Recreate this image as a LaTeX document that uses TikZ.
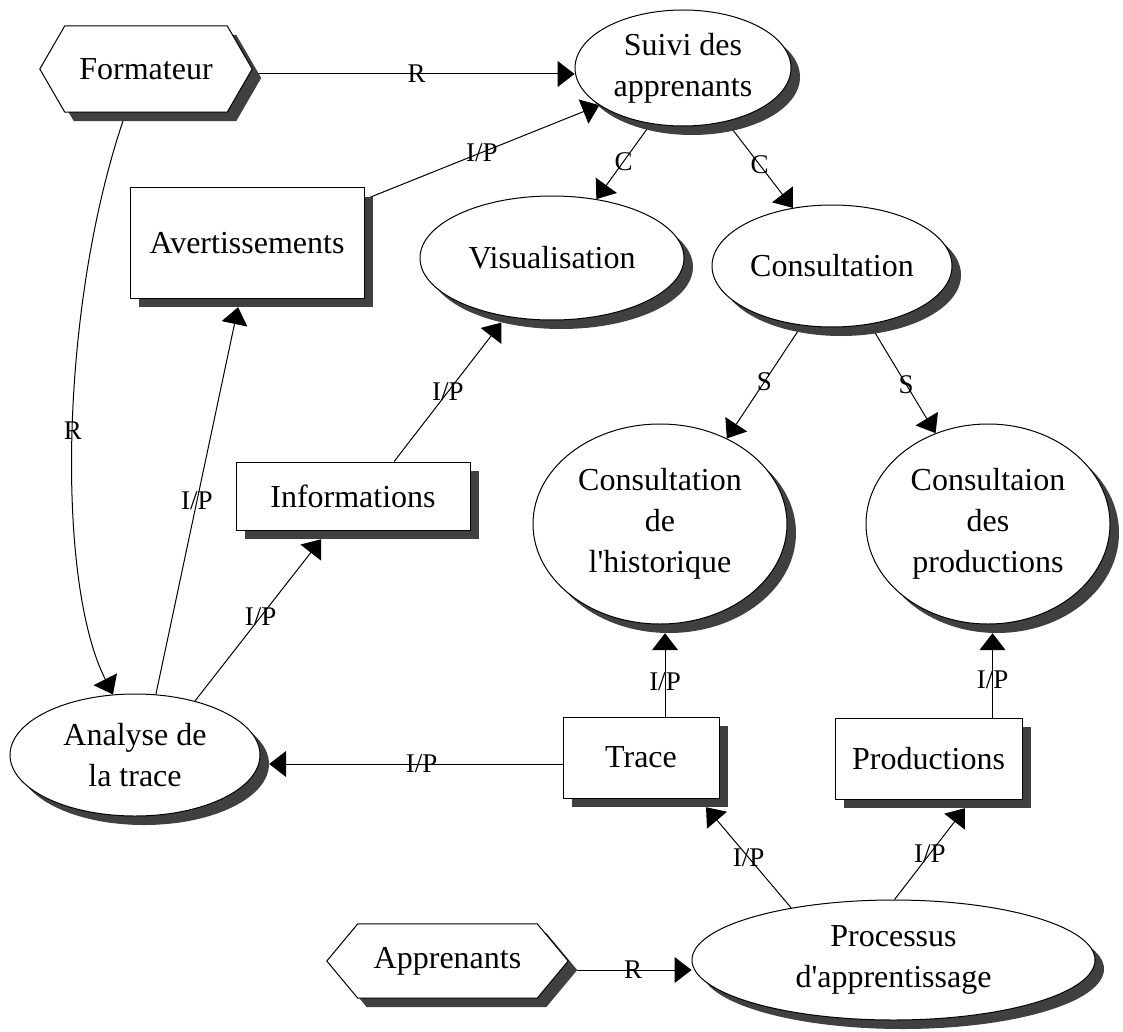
\documentclass[tikz,border=0pt]{standalone}
\usepackage{fontspec}
\setmainfont{Liberation Serif}
\usetikzlibrary{arrows.meta,shapes.geometric}
\definecolor{shd}{HTML}{404040}
\pgfdeclarelayer{edges}
\pgfdeclarelayer{shapes}
\pgfsetlayers{edges,shapes,main}
\newcommand{\hexagonpath}[2]{(#1.west) -- ([xshift=#2]#1.north west) -- ([xshift=-#2]#1.north east) -- (#1.east) -- ([xshift=-#2]#1.south east) -- ([xshift=#2]#1.south west) -- cycle}
\begin{document}
\begin{tikzpicture}[x=1pt,y=-1pt,
  txt/.style={font=\fontsize{32}{41}\selectfont, align=center},
  ell/.style={ellipse, draw, fill=white, line width=1pt, inner sep=0pt, txt},
  ellsh/.style={ellipse, fill=shd, draw=none, inner sep=0pt},
  box/.style={rectangle, draw, fill=white, line width=1pt, inner sep=0pt, txt},
  boxsh/.style={rectangle, fill=shd, draw=none, inner sep=0pt},
  hexnode/.style={rectangle, draw=none, inner sep=0pt, txt},
  arr/.style={line width=1pt, -{Triangle[length=17pt,width=26pt]}},
  lab/.style={font=\fontsize{27}{27}\selectfont, inner sep=0pt}
]
\useasboundingbox (0,0) rectangle (1123,1032);

% hexagon anchors
\node[hexnode, minimum width=212pt, minimum height=86pt] (form-s) at (155,78) {};
\node[hexnode, minimum width=212pt, minimum height=86pt] (form) at (146,69) {Formateur};
\node[hexnode, minimum width=241pt, minimum height=74pt] (app-s) at (456.5,970) {};
\node[hexnode, minimum width=241pt, minimum height=74pt] (app) at (447.5,961) {Apprenants};
\begin{pgfonlayer}{shapes}
\fill[shd] \hexagonpath{form-s}{25pt};
\filldraw[fill=white, draw=black, line width=1pt] \hexagonpath{form}{25pt};
\fill[shd] \hexagonpath{app-s}{31pt};
\filldraw[fill=white, draw=black, line width=1pt] \hexagonpath{app}{31pt};
\end{pgfonlayer}

% shadows
\node[ellsh, minimum width=216pt, minimum height=116pt] (suivi-s) at (692,77) {};
\node[boxsh, minimum width=234pt, minimum height=110pt] (avert-s) at (256,252) {};
\node[ellsh, minimum width=264pt, minimum height=124pt] (vis-s) at (561,267) {};
\node[ellsh, minimum width=240pt, minimum height=122pt] (cons-s) at (841,275) {};
\node[ellsh, minimum width=254pt, minimum height=200pt] (hist-s) at (669,533) {};
\node[ellsh, minimum width=244pt, minimum height=200pt] (prod-s) at (997,533) {};
\node[boxsh, minimum width=234pt, minimum height=68pt] (info-s) at (362,505) {};
\node[ellsh, minimum width=250pt, minimum height=122pt] (ana-s) at (144,764) {};
\node[boxsh, minimum width=156pt, minimum height=81pt] (trace-s) at (650,766.5) {};
\node[boxsh, minimum width=187pt, minimum height=81pt] (prodbox-s) at (937.5,767.5) {};
\node[ellsh, minimum width=403pt, minimum height=120pt] (proc-s) at (902.5,969) {};

% nodes
\node[ell, minimum width=216pt, minimum height=116pt] (suivi) at (683,68) {Suivi des\\apprenants};
\node[box, minimum width=234pt, minimum height=110pt] (avert) at (247,243) {Avertissements};
\node[ell, minimum width=264pt, minimum height=124pt] (vis) at (552,258) {Visualisation};
\node[ell, minimum width=240pt, minimum height=122pt] (cons) at (832,266) {Consultation};
\node[ell, minimum width=254pt, minimum height=200pt] (hist) at (660,524) {Consultation\\de\\l\textquotesingle historique};
\node[ell, minimum width=244pt, minimum height=200pt] (prod) at (988,524) {Consultaion\\des\\productions};
\node[box, minimum width=234pt, minimum height=68pt] (info) at (353,496) {Informations};
\node[ell, minimum width=250pt, minimum height=122pt] (ana) at (135,755) {Analyse de\\la trace};
\node[box, minimum width=156pt, minimum height=81pt] (trace) at (641,757.5) {Trace};
\node[box, minimum width=187pt, minimum height=81pt] (prodbox) at (928.5,758.5) {Productions};
\node[ell, minimum width=403pt, minimum height=120pt] (proc) at (893.5,960) {Processus\\d\textquotesingle apprentissage};

% connectors
\begin{pgfonlayer}{edges}
\coordinate (f1) at ([yshift=-5pt]form.east);
\draw[arr] (f1) -- (f1 -| suivi.west) node[lab, pos=0.51] {R};
\draw[arr] ([xshift=-20pt]form.south) .. controls (60,300) and (55,580) .. (ana.110) node[lab, pos=0.5] {R};
\draw[arr] ([yshift=-12pt]avert.north east) -- (suivi.204) node[lab, pos=0.5] {I/P};
\draw[arr] (suivi.240) -- (vis.53) node[lab, pos=0.5] {C};
\draw[arr] (suivi.309) -- (cons.124) node[lab, pos=0.5] {C};
\draw[arr] (cons.243) -- (hist.52) node[lab, pos=0.5] {S};
\draw[arr] (cons.303) -- (prod.120) node[lab, pos=0.55] {S};
\draw[arr] (ana.71) -- (avert-s.252) node[lab, pos=0.5] {I/P};
\draw[arr] (ana.42) -- (info-s.220) node[lab, pos=0.52] {I/P};
\draw[arr] (info.40) -- (vis-s.223) node[lab, pos=0.5] {I/P};
\draw[arr] (trace.west |- ana-s.east) -- (ana-s.east) node[lab, pos=0.48] {I/P};
\coordinate (t1) at ([xshift=24pt]trace.north);
\draw[arr] (t1) -- (t1 |- hist-s.south) node[lab, pos=0.42] {I/P};
\coordinate (p1) at ([xshift=64pt]prodbox.north);
\draw[arr] (p1) -- (p1 |- prod-s.south) node[lab, pos=0.45] {I/P};
\draw[arr] (proc.153) -- (trace-s.324) node[lab, pos=0.5] {I/P};
\draw[arr] (proc.89) -- (prodbox-s.304) node[lab, pos=0.5] {I/P};
\draw[arr] (app-s.east) -- (app-s.east -| proc.west) node[lab, pos=0.49] {R};
\end{pgfonlayer}
\end{tikzpicture}
\end{document}
